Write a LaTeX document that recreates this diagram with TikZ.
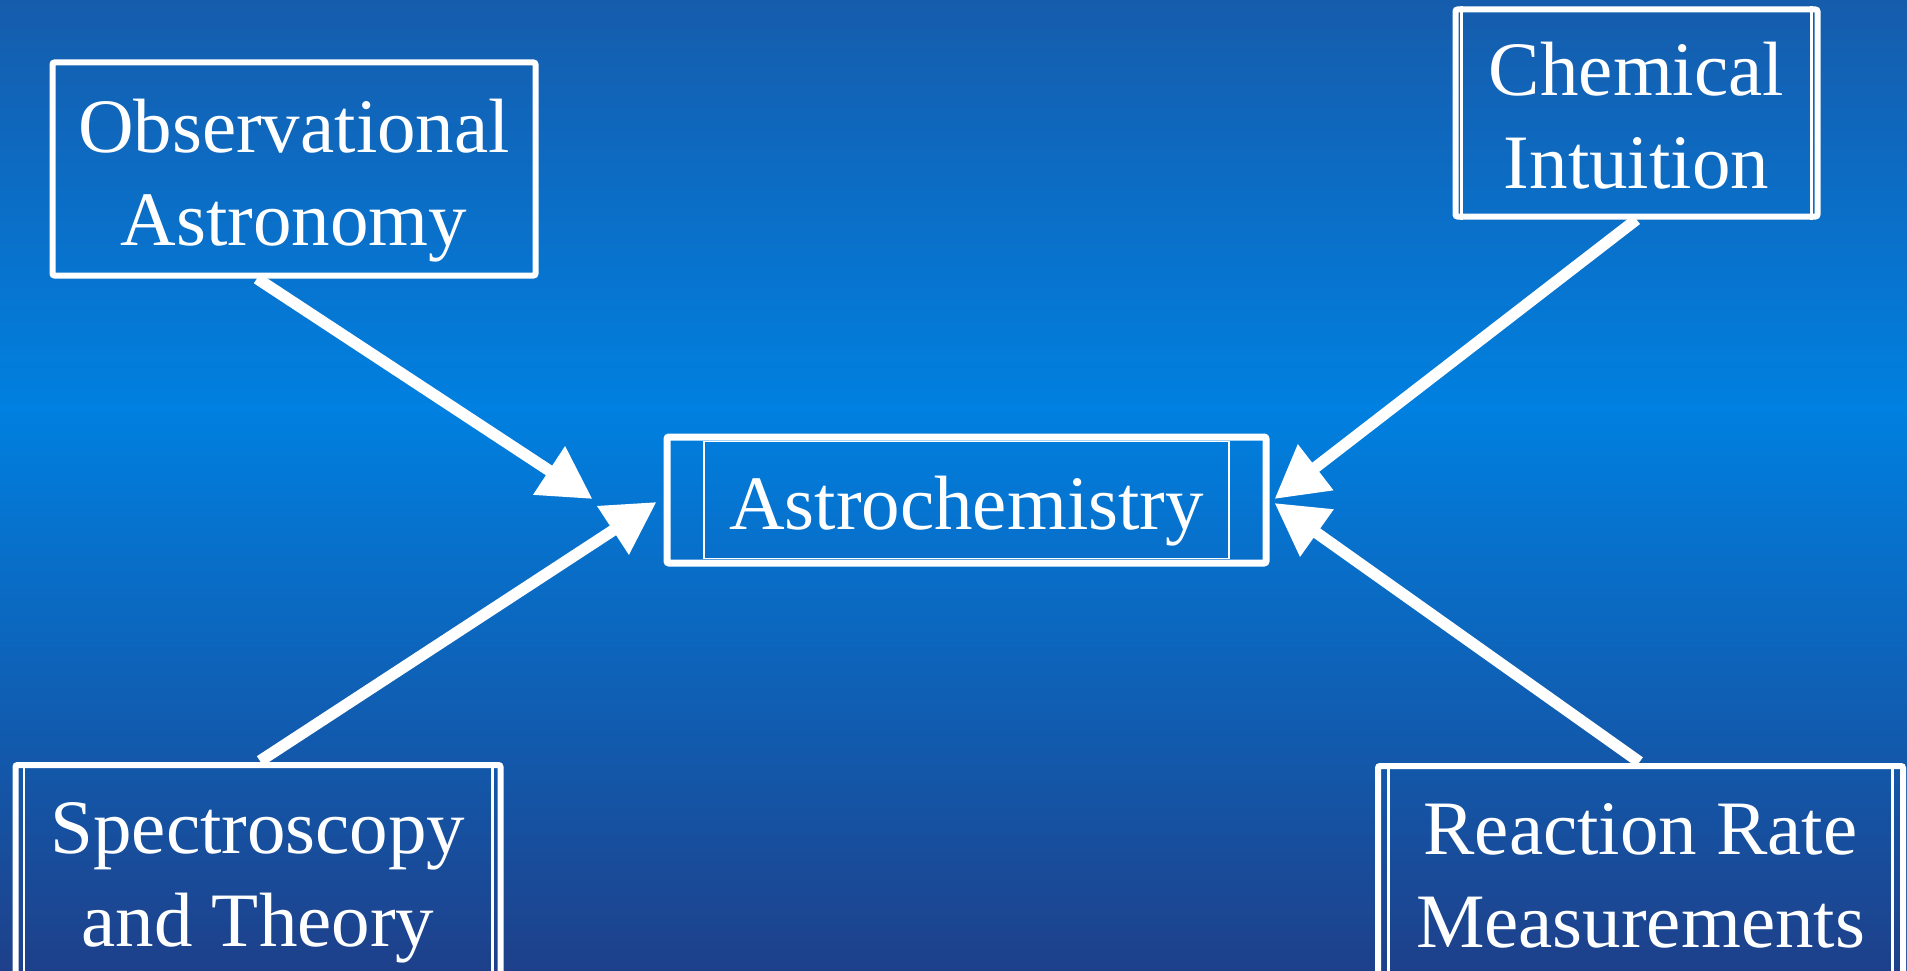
\documentclass[tikz,border=0pt]{standalone}
\usepackage{fontspec}
\setmainfont{Liberation Serif}
\usetikzlibrary{arrows.meta,calc}
\definecolor{bgtop}{RGB}{22,92,172}
\definecolor{bgmid}{RGB}{0,128,224}
\definecolor{bgbot}{RGB}{30,64,138}
\pgfdeclareverticalshading{bgshade}{100bp}{color(0bp)=(bgbot); color(25bp)=(bgbot); color(54bp)=(bgmid); color(75bp)=(bgtop); color(100bp)=(bgtop)}
\begin{document}
\begin{tikzpicture}[x=1pt,y=-1pt,
  box/.style={draw=white, line width=6pt, rounded corners=2pt, text=white,
    inner sep=0pt, align=center, font=\fontsize{77}{93}\selectfont,
    text height=172pt, text depth=20pt},
  thinline/.style={draw=white, line width=2.2pt},
  conn/.style={draw=white, line width=11.5pt, -{Triangle[length=52pt,width=55pt]}}
]
\shade[shading=bgshade] (0,0) rectangle (1907,971);
\useasboundingbox (0,0) rectangle (1907,971);

% nodes
\node[box, minimum width=483pt, minimum height=213pt] (obs) at (294,169) {Observational\\Astronomy};
\node[box, minimum width=362pt, minimum height=207pt] (chem) at (1636.5,113) {Chemical\\Intuition};
\node[box, line width=7pt, minimum width=599pt, minimum height=126pt, text height=64pt, text depth=6pt] (astro) at (966.5,500) {Astrochemistry};
\node[box, minimum width=485pt, minimum height=210pt] (spec) at (258,870) {Spectroscopy\\and Theory};
\node[box, minimum width=525pt, minimum height=210pt] (react) at (1640.5,871) {Reaction Rate\\Measurements};

% inner decorations
\draw[thinline] ([xshift=9pt]chem.north west) -- ([xshift=9pt]chem.south west);
\draw[thinline] ([xshift=-9pt]chem.north east) -- ([xshift=-9pt]chem.south east);
\draw[thinline] ([xshift=11.5pt]spec.north west) -- ([xshift=11.5pt]spec.south west);
\draw[thinline] ([xshift=-11pt]spec.north east) -- ([xshift=-11pt]spec.south east);
\draw[thinline] ([xshift=13.5pt]react.north west) -- ([xshift=13.5pt]react.south west);
\draw[thinline] ([xshift=-13.5pt]react.north east) -- ([xshift=-13.5pt]react.south east);
\draw[draw=white, line width=1.5pt] ($(astro.center)+(-262.5,-58.5)$) rectangle ($(astro.center)+(262.5,58.5)$);

% connector end points
\coordinate (s1) at ($(obs.south)+(-37,0)$);
\coordinate (e1) at ($(astro.west)+(-71,-1)$);
\coordinate (s2) at ($(spec.north)+(2,-1)$);
\coordinate (e2) at ($(astro.west)+(-7,2)$);
\coordinate (s3) at ($(chem.south)+(0,0)$);
\coordinate (e3) at ($(astro.east)+(5,-1)$);
\coordinate (s4) at ($(react.north)+(-1,-1)$);
\coordinate (e4) at ($(astro.east)+(5,3)$);

\draw[conn] (s1) -- (e1);
\draw[conn] (s2) -- (e2);
\draw[conn] (s3) -- (e3);
\draw[conn] (s4) -- (e4);
\end{tikzpicture}
\end{document}
